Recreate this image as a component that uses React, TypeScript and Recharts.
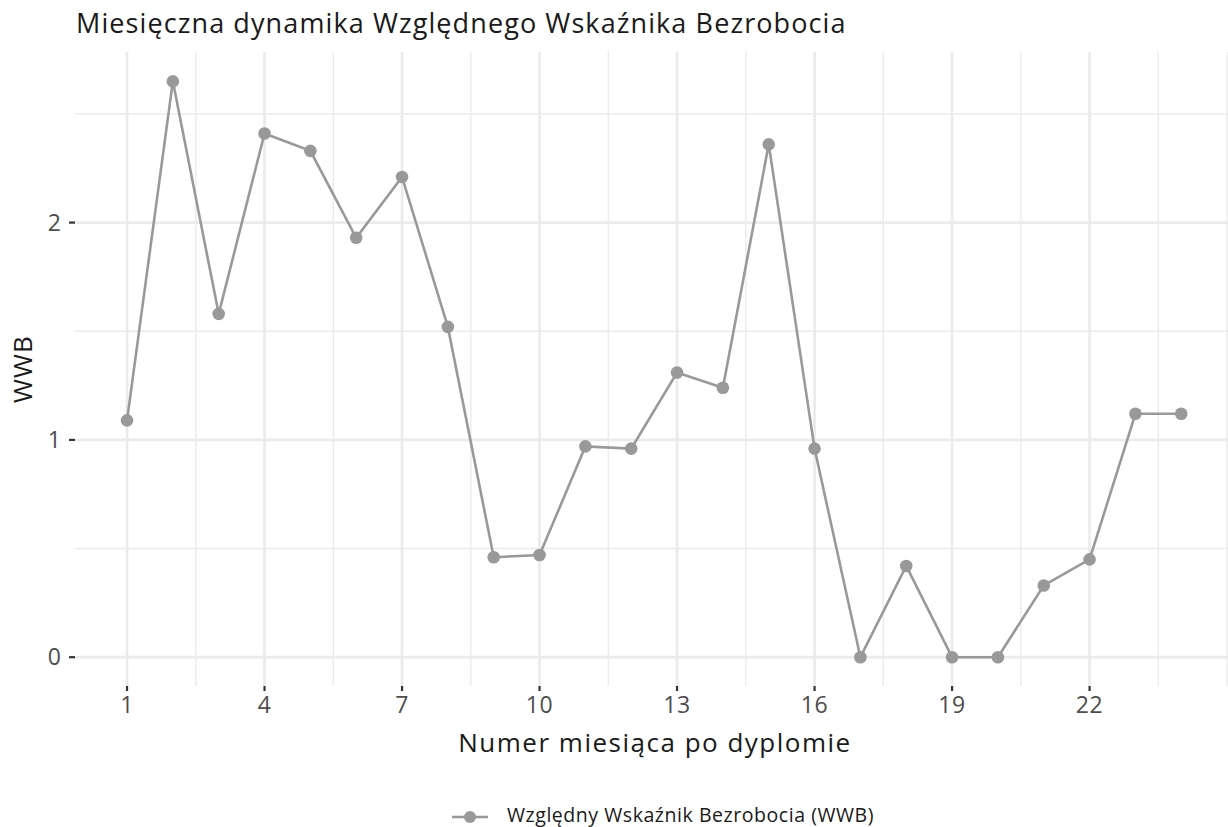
import React from "react";
import { LineChart, Line, XAxis, YAxis, ReferenceLine } from "recharts";

const MONTHS = [
  1, 2, 3, 4, 5, 6, 7, 8, 9, 10, 11, 12, 13, 14, 15, 16, 17, 18, 19, 20, 21,
  22, 23, 24,
];
const WWB = [
  1.09, 2.65, 1.58, 2.41, 2.33, 1.93, 2.21, 1.52, 0.46, 0.47, 0.97, 0.96, 1.31,
  1.24, 2.36, 0.96, 0, 0.42, 0, 0, 0.33, 0.45, 1.12, 1.12,
];
const X_TICKS = [1, 4, 7, 10, 13, 16, 19, 22];
const X_MINOR = [2.5, 5.5, 8.5, 11.5, 14.5, 17.5, 20.5, 23.5, 25];
const Y_TICKS = [0, 1, 2];
const Y_MINOR = [0.5, 1.5, 2.5];

const TITLE = "Miesięczna dynamika Względnego Wskaźnika Bezrobocia";
const X_TITLE = "Numer miesiąca po dyplomie";
const Y_TITLE = "WWB";
const SERIES_NAME = "Względny Wskaźnik Bezrobocia (WWB)";

const FONT = "'Open Sans', sans-serif";
const LINE_COLOR = "#999999";
const GRID = "#ebebeb";

const data = MONTHS.map((m, i) => ({ month: m, wwb: WWB[i] }));

export default function App() {
  return (
    <div
      style={{
        position: "absolute",
        left: 0,
        top: 0,
        width: 1228,
        height: 827,
        background: "#fff",
        fontFamily: FONT,
        overflow: "hidden",
      }}
    >
      <div
        style={{
          position: "absolute",
          left: 76,
          top: 4,
          fontSize: 27,
          letterSpacing: 1.1,
          color: "#1a1a1a",
          whiteSpace: "nowrap",
        }}
      >
        {TITLE}
      </div>
      <div
        style={{
          position: "absolute",
          left: 22,
          top: 369,
          fontSize: 26,
          letterSpacing: 1,
          color: "#1a1a1a",
          transform: "translate(-50%, -50%) rotate(-90deg)",
          whiteSpace: "nowrap",
        }}
      >
        {Y_TITLE}
      </div>
      <div
        style={{
          position: "absolute",
          left: 655,
          top: 724,
          fontSize: 26,
          letterSpacing: 1.5,
          color: "#1a1a1a",
          transform: "translateX(-50%)",
          whiteSpace: "nowrap",
        }}
      >
        {X_TITLE}
      </div>
      {/* legend, laid out by hand */}
      <div
        style={{
          position: "absolute",
          left: 452,
          top: 803,
          height: 24,
          lineHeight: "24px",
          display: "flex",
          alignItems: "center",
          fontSize: 19.5,
          letterSpacing: 0.55,
          color: "#1a1a1a",
          whiteSpace: "nowrap",
        }}
      >
        <svg width={36} height={24} style={{ marginRight: 19 }}>
          <line x1={0} y1={14} x2={36} y2={14} stroke={LINE_COLOR} strokeWidth={2.6} />
          <circle cx={18} cy={14} r={6} fill={LINE_COLOR} />
        </svg>
        <span>{SERIES_NAME}</span>
      </div>
      <LineChart
        width={1228}
        height={827}
        data={data}
        margin={{ top: 52, right: 0, bottom: 91, left: 0 }}
      >
        {X_MINOR.map((v) => (
          <ReferenceLine key={"xm" + v} x={v} stroke={GRID} strokeWidth={1.4} />
        ))}
        {Y_MINOR.map((v) => (
          <ReferenceLine key={"ym" + v} y={v} stroke={GRID} strokeWidth={1.4} />
        ))}
        {X_TICKS.map((v) => (
          <ReferenceLine key={"x" + v} x={v} stroke={GRID} strokeWidth={2.7} />
        ))}
        {Y_TICKS.map((v) => (
          <ReferenceLine key={"y" + v} y={v} stroke={GRID} strokeWidth={2.7} />
        ))}
        <XAxis
          dataKey="month"
          type="number"
          domain={[-0.135, 25.02]}
          ticks={X_TICKS}
          allowDataOverflow
          height={50}
          axisLine={false}
          tickLine={{ stroke: "#333333", strokeWidth: 2.2 }}
          tickSize={5}
          tickMargin={6}
          tick={{ fill: "#4d4d4d", fontSize: 23, fontFamily: FONT, letterSpacing: 0.6 }}
        />
        <YAxis
          type="number"
          domain={[-0.1325, 2.785]}
          ticks={Y_TICKS}
          allowDataOverflow
          width={75}
          axisLine={false}
          tickLine={{ stroke: "#333333", strokeWidth: 2.2 }}
          tickSize={6}
          tickMargin={8}
          tick={{ fill: "#4d4d4d", fontSize: 23, fontFamily: FONT }}
        />
        <Line
          type="linear"
          dataKey="wwb"
          name={SERIES_NAME}
          stroke={LINE_COLOR}
          strokeWidth={2.6}
          dot={{ r: 6.3, fill: LINE_COLOR, stroke: "none" }}
          activeDot={false}
          isAnimationActive={false}
        />
      </LineChart>
    </div>
  );
}
